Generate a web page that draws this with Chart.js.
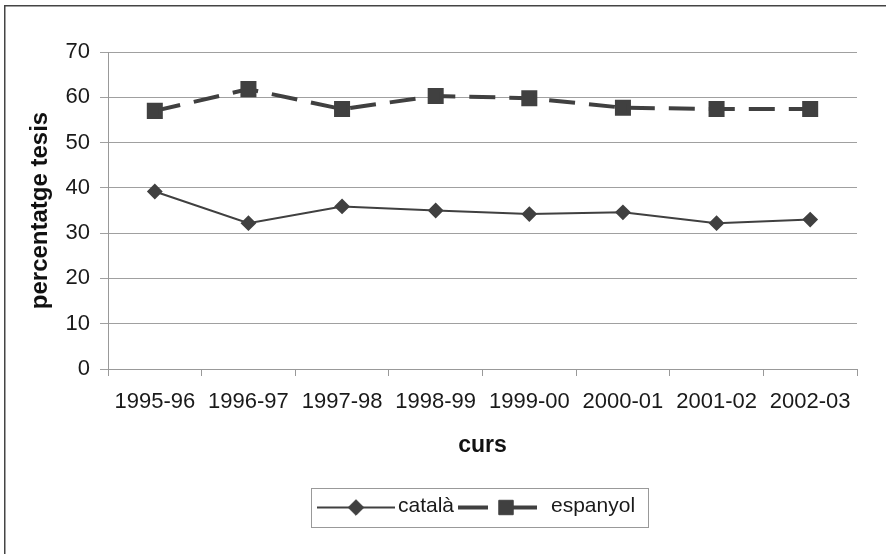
<!DOCTYPE html>
<html>
<head>
<meta charset="utf-8">
<script src="https://cdn.jsdelivr.net/npm/chart.js@4/dist/chart.umd.min.js"></script>
<style>
  html, body { margin: 0; padding: 0; background: #ffffff; }
  #wrap { width: 886px; height: 554px; position: relative; }
</style>
</head>
<body>
<div id="wrap"><canvas id="c" width="886" height="554"></canvas></div>
<script>
// ---- data ----
const categories = ['1995-96', '1996-97', '1997-98', '1998-99', '1999-00', '2000-01', '2001-02', '2002-03'];
const catalaValues = [39.2, 32.2, 35.9, 35.0, 34.2, 34.6, 32.2, 33.0];
const espanyolValues = [57.0, 61.8, 57.4, 60.3, 59.8, 57.7, 57.4, 57.4];
const seriesLabels = ['català', 'espanyol'];
const yTitle = 'percentatge tesis';
const xTitle = 'curs';

const FONT = '"Liberation Sans", Arial, sans-serif';
const INK = '#404040';

const frameAndLegend = {
  id: 'frameAndLegend',
  beforeDraw(chart) {
    const ctx = chart.ctx;
    ctx.save();
    ctx.fillStyle = '#ffffff';
    ctx.fillRect(0, 0, chart.width, chart.height);
    ctx.strokeStyle = '#444444';
    ctx.lineWidth = 1.5;
    ctx.strokeRect(4.75, 5.75, 2000, 2000);
    ctx.restore();
  },
  afterDraw(chart) {
    const ctx = chart.ctx;
    ctx.save();
    // legend box
    ctx.strokeStyle = '#999999';
    ctx.lineWidth = 1;
    ctx.strokeRect(311.5, 488.5, 337, 39);
    const cy = 507.5;
    const items = [
      { x0: 317, len: 78, tx: 398, mx: 356 },
      { x0: 458, len: 79, tx: 551, mx: 506 }
    ];
    chart.data.datasets.forEach((ds, i) => {
      const it = items[i];
      ctx.strokeStyle = ds.borderColor;
      ctx.lineWidth = ds.borderWidth;
      ctx.setLineDash(i === 1 ? [30, 11, 100] : []);
      ctx.beginPath();
      ctx.moveTo(it.x0, cy);
      ctx.lineTo(it.x0 + it.len, cy);
      ctx.stroke();
      ctx.setLineDash([]);
      ctx.fillStyle = ds.pointBackgroundColor;
      ctx.strokeStyle = ds.pointBorderColor;
      ctx.lineWidth = 1;
      Chart.helpers.drawPoint(ctx, { pointStyle: ds.pointStyle, radius: ds.pointRadius * 1.2, borderWidth: 1 }, it.mx, cy);
      ctx.fillStyle = '#1a1a1a';
      ctx.font = '21px ' + FONT;
      ctx.textAlign = 'left';
      ctx.textBaseline = 'middle';
      ctx.fillText(ds.label, it.tx, cy - 1);
    });
    ctx.restore();
  }
};

new Chart(document.getElementById('c'), {
  type: 'line',
  data: {
    labels: categories,
    datasets: [
      {
        label: seriesLabels[0],
        data: catalaValues,
        borderColor: INK,
        borderWidth: 2,
        pointStyle: 'rectRot',
        pointRadius: 6.5,
        pointHoverRadius: 6.5,
        pointBackgroundColor: INK,
        pointBorderColor: INK,
        tension: 0,
        fill: false
      },
      {
        label: seriesLabels[1],
        data: espanyolValues,
        borderColor: INK,
        borderWidth: 4,
        borderDash: [26, 14],
        pointStyle: 'rect',
        pointRadius: 8.5,
        pointHoverRadius: 8.5,
        pointBackgroundColor: INK,
        pointBorderColor: INK,
        tension: 0,
        fill: false
      }
    ]
  },
  options: {
    responsive: true,
    maintainAspectRatio: false,
    animation: false,
    layout: { padding: { top: 52, right: 29, bottom: 0, left: 0 } },
    plugins: {
      legend: { display: false },
      tooltip: { enabled: false }
    },
    scales: {
      x: {
        type: 'category',
        offset: true,
        grid: {
          offset: true,
          drawOnChartArea: false,
          drawTicks: true,
          tickLength: 7,
          color: '#999999',
          lineWidth: 1
        },
        border: { display: true, color: '#999999', width: 1 },
        ticks: {
          color: '#1a1a1a',
          font: { family: FONT, size: 22 },
          padding: 13,
          maxRotation: 0,
          autoSkip: false
        },
        title: {
          display: true,
          text: xTitle,
          color: '#111111',
          font: { family: FONT, size: 23, weight: 'bold' },
          padding: { top: 0, bottom: 95 }
        },
        afterFit(scale) { scale.height = 185; }
      },
      y: {
        min: 0,
        max: 70,
        grid: {
          color: '#a0a0a0',
          lineWidth: 1,
          drawTicks: true,
          tickLength: 8
        },
        border: { display: true, color: '#999999', width: 1 },
        ticks: {
          stepSize: 10,
          color: '#1a1a1a',
          font: { family: FONT, size: 22 },
          padding: 10
        },
        title: {
          display: true,
          text: yTitle,
          color: '#111111',
          font: { family: FONT, size: 24, weight: 'bold' },
          padding: { top: 26, bottom: 0 }
        },
        afterFit(scale) { scale.width = 108; }
      }
    }
  },
  plugins: [frameAndLegend]
});
</script>
</body>
</html>
